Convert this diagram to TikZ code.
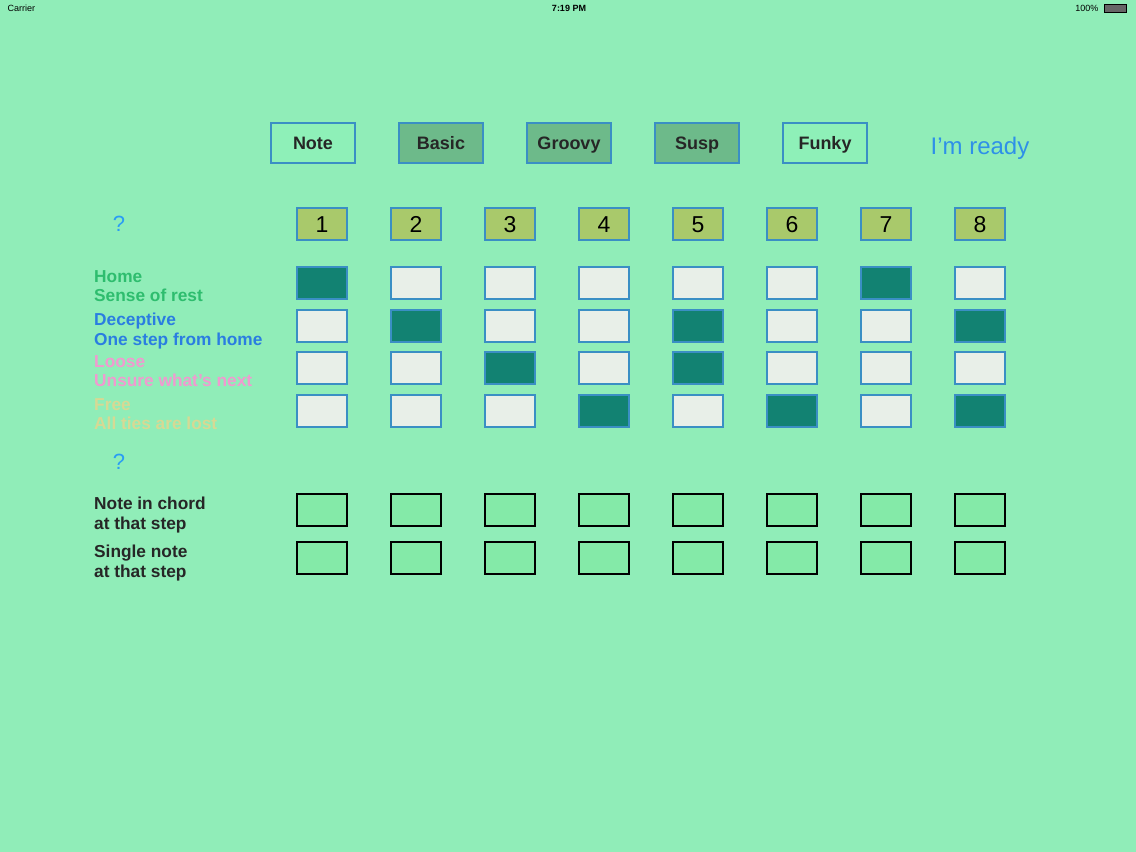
\documentclass[tikz,border=0pt]{standalone}
\usepackage{fontspec}
\setmainfont{Liberation Sans}
\definecolor{bg}{HTML}{90EDB8}
\definecolor{numf}{HTML}{A9C96B}
\definecolor{edgeb}{HTML}{3A8FC4}
\definecolor{dark}{HTML}{128272}
\definecolor{light}{HTML}{E8EFE8}
\definecolor{botf}{HTML}{84EAA8}
\definecolor{btnd}{HTML}{6DBA8A}
\definecolor{btnl}{HTML}{8EF0B8}
\definecolor{lgreen}{HTML}{2EBD6E}
\definecolor{lblue}{HTML}{2A7DE1}
\definecolor{lpink}{HTML}{F09AD0}
\definecolor{lyel}{HTML}{D6D994}
\definecolor{qblue}{HTML}{2A9DF4}
\definecolor{rblue}{HTML}{2E90E8}
\tikzset{
 cell/.style={draw=edgeb,line width=1.4pt,minimum width=50pt,minimum height=32pt,inner sep=0pt},
 on/.style={cell,fill=dark},
 off/.style={cell,fill=light},
 num/.style={cell,fill=numf,text height=16pt,text depth=0pt,font=\fontsize{23}{23}\selectfont},
 bot/.style={draw=black,line width=1.2pt,fill=botf,minimum width=50pt,minimum height=32pt,inner sep=0pt},
 btn/.style={draw=edgeb,line width=1.4pt,minimum width=84pt,minimum height=40pt,inner sep=0pt,text height=13pt,text depth=0pt,font=\bfseries\fontsize{18}{18}\selectfont,text=black!85},
 lab/.style={anchor=north west,align=left,font=\bfseries\fontsize{17.3}{19.5}\selectfont,inner sep=0pt},
}
\begin{document}
\begin{tikzpicture}[x=1pt,y=-1pt]
\path[fill=bg] (0,0) rectangle (1136,852);
\node[anchor=west,font=\fontsize{9}{9}\selectfont] (carrier) at (4,8) {Carrier};
\node[font=\bfseries\fontsize{9}{9}\selectfont] (time) at (569,8) {7:19 PM};
\node[anchor=east,font=\fontsize{9}{9}\selectfont] (batt) at (1102,8) {100\%};
\draw[fill=black!60] (1104,4) rectangle (1126,12);
\node[btn,fill=btnl] (b1) at (313,143) {Note};
\node[btn,fill=btnd] (b2) at (441,143) {Basic};
\node[btn,fill=btnd] (b3) at (569,143) {Groovy};
\node[btn,fill=btnd] (b4) at (697,143) {Susp};
\node[btn,fill=btnl] (b5) at (825,143) {Funky};
\node[text=rblue,font=\fontsize{24}{24}\selectfont] (ready) at (980,148) {I'm ready};
\node[text=qblue,font=\fontsize{22}{22}\selectfont] (q1) at (119,224) {?};
\node[text=qblue,font=\fontsize{22}{22}\selectfont] (q2) at (119,462) {?};
\foreach \i/\x in {1/322,2/416,3/510,4/604,5/698,6/792,7/886,8/980}{
  \node[num] (n\i) at (\x,224) {\i};
  \node[bot] (c\i) at (\x,510) {};
  \node[bot] (s\i) at (\x,558) {};
}
\foreach \r/\y/\pat in {1/283/{1,0,0,0,0,0,1,0},2/326/{0,1,0,0,1,0,0,1},3/368/{0,0,1,0,1,0,0,0},4/411/{0,0,0,1,0,1,0,1}}{
  \foreach \v [count=\i] in \pat {
    \pgfmathsetmacro\xx{322+94*(\i-1)}
    \ifnum\v=1 \node[on] (g\r\i) at (\xx,\y) {}; \else \node[off] (g\r\i) at (\xx,\y) {}; \fi
  }
}
\node[lab,text=lgreen] (l1) at (94,270) {Home\\Sense of rest};
\node[lab,text=lblue] (l2) at (94,313) {Deceptive\\One step from home};
\node[lab,text=lpink] (l3) at (94,355) {Loose\\Unsure what's next};
\node[lab,text=lyel] (l4) at (94,398) {Free\\All ties are lost};
\node[lab,text=black!85] (l5) at (94,497) {Note in chord\\at that step};
\node[lab,text=black!85] (l6) at (94,545) {Single note\\at that step};
\end{tikzpicture}
\end{document}
